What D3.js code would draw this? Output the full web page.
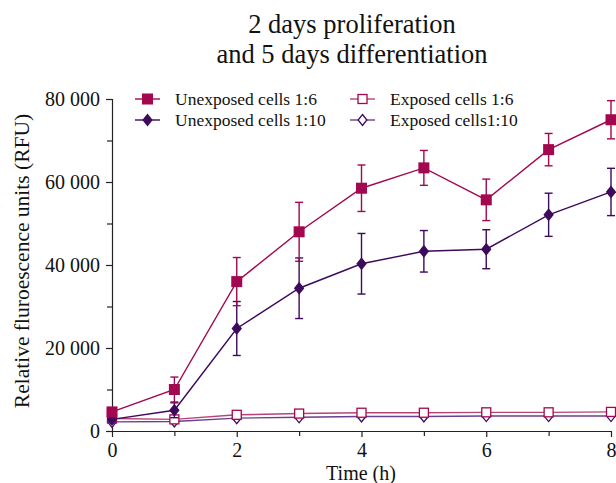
<!DOCTYPE html>
<html><head><meta charset="utf-8">
<script src="https://cdn.jsdelivr.net/npm/d3@7"></script>
<style>body{margin:0;background:#fff}svg{display:block}text{font-family:"Liberation Serif","Times New Roman",serif;fill:#111}</style>
</head><body><svg id="c" width="616" height="483"></svg>
<script>
const times = [0,1,2,3,4,5,6,7,8];
const unexp16 = [4600,10000,36000,48000,58500,63400,55700,67800,75000];
const unexp16Err = [1000,3000,5800,7100,5600,4200,5000,3900,4600];
const unexp110 = [2800,5000,24700,34400,40300,43300,43800,52100,57600];
const unexp110Err = [600,1800,6500,7300,7300,5000,4700,5200,5700];
const exp16 = [3000,2800,3900,4200,4400,4400,4500,4500,4600];
const exp16Err = [300,300,300,300,300,300,300,300,300];
const exp110 = [2200,2300,3100,3300,3500,3500,3600,3600,3600];
const exp110Err = [300,300,300,300,300,300,300,300,300];
const seriesNames = ["Unexposed cells 1:6","Unexposed cells 1:10","Exposed cells 1:6","Exposed cells1:10"];
const xTicks = [0,2,4,6,8];
const yTicks = [0,20000,40000,60000,80000];
const titleLines = ["2 days proliferation","and 5 days differentiation"];

const RED="#a2074f", PURP="#3d0a5c", RED2="#b8437a", PURP2="#6b3f8c";
const series = [
  {name:seriesNames[0], v:unexp16, e:unexp16Err, color:RED, line:RED, shape:"square", filled:true},
  {name:seriesNames[1], v:unexp110, e:unexp110Err, color:PURP, line:PURP, shape:"diamond", filled:true},
  {name:seriesNames[2], v:exp16, e:exp16Err, color:RED, line:RED2, shape:"square", filled:false},
  {name:seriesNames[3], v:exp110, e:exp110Err, color:PURP, line:PURP2, shape:"diamond", filled:false}
];

const svg = d3.select("#c");
const L=112,R=611,T=99,B=431;
const x = d3.scaleLinear().domain([0,8]).range([L,R]);
const y = d3.scaleLinear().domain([0,80000]).range([B,T]);
const loc = d3.formatLocale({decimal:".",thousands:" ",grouping:[3],currency:["",""]});
const fmt = loc.format(",d");

// title
svg.append("g").selectAll("text").data(titleLines).join("text")
  .attr("x",352).attr("y",(d,i)=>33+i*30).attr("text-anchor","middle")
  .style("font-size","26.5px").text(d=>d);

// axes
const xAxis = svg.append("g").attr("transform",`translate(0,${B})`)
  .call(d3.axisBottom(x).tickValues(xTicks).tickFormat(d3.format("d")).tickSize(6).tickPadding(3));
svg.append("g").attr("transform",`translate(0,${B})`)
  .call(d3.axisBottom(x).tickValues([1,3,5,7]).tickFormat("").tickSize(5)).select(".domain").remove();
const yAxis = svg.append("g").attr("transform",`translate(${L},0)`)
  .call(d3.axisLeft(y).tickValues(yTicks).tickFormat(fmt).tickSize(6).tickPadding(6));
svg.append("g").attr("transform",`translate(${L},0)`)
  .call(d3.axisLeft(y).tickValues([10000,30000,50000,70000]).tickFormat("").tickSize(5)).select(".domain").remove();
svg.selectAll(".domain").attr("stroke","#222").attr("stroke-width",1.2);
svg.selectAll(".tick line").attr("stroke","#222").attr("stroke-width",1.2);
xAxis.selectAll("text").style("font-size","20px").style("font-family","Liberation Serif").attr("fill","#111")
  .attr("y",26).attr("dy",null);
yAxis.selectAll("text").style("font-size","20px").style("font-family","Liberation Serif").attr("fill","#111").attr("dy","0.34em");
xAxis.selectAll(".domain").attr("d",`M${L},0.5H${R}`);
yAxis.selectAll(".domain").attr("d",`M0.5,${B}V${T}`);

svg.append("text").attr("x",361).attr("y",480).attr("text-anchor","middle").style("font-size","20px").text("Time (h)");
svg.append("text").attr("transform","translate(29,261) rotate(-90)").attr("text-anchor","middle").style("font-size","21.5px").text("Relative fluroescence units (RFU)");

function marker(g, s, cx, cy){
  if(s.shape==="square"){
    const h = s.filled?5.5:4.5;
    g.append("rect").attr("x",cx-h).attr("y",cy-h).attr("width",2*h).attr("height",2*h)
      .attr("fill",s.filled?s.color:"#fff").attr("stroke",s.color).attr("stroke-width",s.filled?0:1.3);
  } else {
    const h = s.filled?6.5:5.5;
    g.append("path").attr("d",`M${cx},${cy-h}L${cx+h*0.8},${cy}L${cx},${cy+h}L${cx-h*0.8},${cy}Z`)
      .attr("fill",s.filled?s.color:"#fff").attr("stroke",s.color).attr("stroke-width",s.filled?0:1.3);
  }
}

const line = d3.line().x((d,i)=>x(times[i])).y(d=>y(d));
[3,2,1,0].forEach(k=>{
  const s = series[k];
  const g = svg.append("g");
  g.append("path").attr("d",line(s.v)).attr("fill","none").attr("stroke",s.line).attr("stroke-width",1.4);
  s.v.forEach((v,i)=>{
    const cx = x(times[i]);
    const y1 = y(v+s.e[i]), y0 = y(v-s.e[i]);
    g.append("line").attr("x1",cx).attr("x2",cx).attr("y1",y1).attr("y2",y0).attr("stroke",s.line).attr("stroke-width",1.4);
    [y1,y0].forEach(yy=>g.append("line").attr("x1",cx-4).attr("x2",cx+4).attr("y1",yy).attr("y2",yy).attr("stroke",s.line).attr("stroke-width",1.4));
  });
  s.v.forEach((v,i)=>marker(g,s,x(times[i]),y(v)));
});

// legend
const legPos = [[135,99],[135,120],[350,99],[350,120]];
series.forEach((s,k)=>{
  const [lx,ly] = legPos[k];
  const g = svg.append("g");
  g.append("line").attr("x1",lx).attr("x2",lx+25).attr("y1",ly).attr("y2",ly).attr("stroke",s.line).attr("stroke-width",1.4);
  marker(g,s,lx+12.5,ly);
  g.append("text").attr("x",lx+40).attr("y",ly).attr("dy","0.35em").style("font-size","17.5px").text(s.name);
});
</script></body></html>
